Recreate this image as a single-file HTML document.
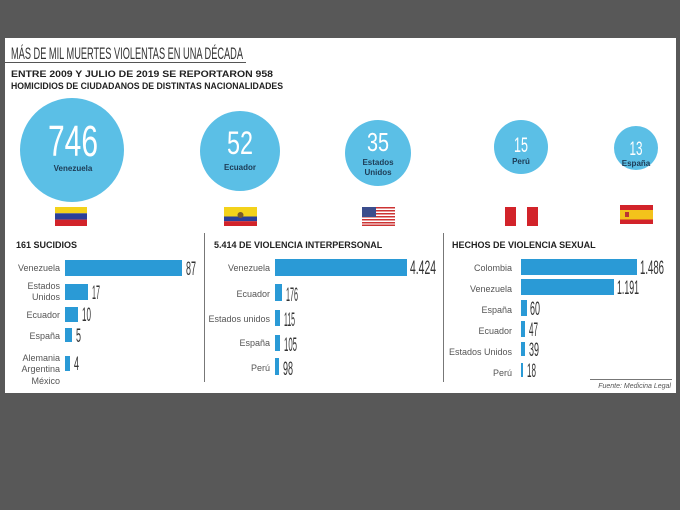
<!DOCTYPE html>
<html><head><meta charset="utf-8"><style>
html,body{margin:0;padding:0;background:#585858;}
svg{display:block;}
.t{font-family:"Liberation Sans",sans-serif;}
.h{font-family:"Liberation Sans",sans-serif;font-weight:bold;font-size:9px;fill:#222;}
.l{font-family:"Liberation Sans",sans-serif;font-size:9px;fill:#555;text-anchor:end;}
.v{font-family:"Liberation Sans",sans-serif;font-size:19px;fill:#333;}
.n{font-family:"Liberation Sans",sans-serif;fill:#fff;text-anchor:middle;}
.c{font-family:"Liberation Sans",sans-serif;font-weight:bold;fill:#1d3b55;text-anchor:middle;font-size:8px;}
</style></head><body>
<svg width="680" height="510" viewBox="0 0 680 510" xmlns="http://www.w3.org/2000/svg">
<rect x="0" y="0" width="680" height="510" fill="#585858"/>
<rect x="5" y="38" width="671" height="355" fill="#fff"/>
<text x="11" y="59" class="t" font-size="17" fill="#333" textLength="232" lengthAdjust="spacingAndGlyphs">MÁS DE MIL MUERTES VIOLENTAS EN UNA DÉCADA</text>
<line x1="5" y1="62.5" x2="246" y2="62.5" stroke="#555" stroke-width="1"/>
<text x="11" y="77" class="h" textLength="262" lengthAdjust="spacingAndGlyphs">ENTRE 2009 Y JULIO DE 2019 SE REPORTARON 958</text>
<text x="11" y="89" class="h" textLength="272" lengthAdjust="spacingAndGlyphs">HOMICIDIOS DE CIUDADANOS DE DISTINTAS NACIONALIDADES</text>

<g fill="#5bbfe6">
<circle cx="72" cy="150" r="52"/>
<circle cx="240" cy="151" r="40"/>
<circle cx="378" cy="153" r="33"/>
<circle cx="521" cy="147" r="27"/>
<circle cx="636" cy="148" r="22"/>
</g>
<text x="73" y="156" class="n" font-size="44" textLength="50" lengthAdjust="spacingAndGlyphs">746</text>
<text x="73" y="171" class="c" font-size="9">Venezuela</text>
<text x="240" y="154" class="n" font-size="32" textLength="26" lengthAdjust="spacingAndGlyphs">52</text>
<text x="240" y="170" class="c" font-size="9">Ecuador</text>
<text x="378" y="151" class="n" font-size="26" textLength="22" lengthAdjust="spacingAndGlyphs">35</text>
<text x="378" y="165" class="c">Estados</text>
<text x="378" y="175" class="c">Unidos</text>
<text x="521" y="152" class="n" font-size="21" textLength="14" lengthAdjust="spacingAndGlyphs">15</text>
<text x="521" y="164" class="c">Perú</text>
<text x="636" y="155" class="n" font-size="19" textLength="13" lengthAdjust="spacingAndGlyphs">13</text>
<text x="636" y="166" class="c">España</text>

<rect x="55" y="207" width="32" height="6.3" fill="#f3d21b"/><rect x="55" y="213.3" width="32" height="6.3" fill="#2a3f99"/><rect x="55" y="219.6" width="32" height="6.4" fill="#d2232a"/>
<rect x="224" y="207" width="33" height="9.5" fill="#f3d21b"/><rect x="224" y="216.5" width="33" height="4.7" fill="#2a3f99"/><rect x="224" y="221.2" width="33" height="4.8" fill="#d2232a"/><circle cx="240.5" cy="215" r="3" fill="#7a5a2a"/>
<g><rect x="362" y="207" width="33" height="19" fill="#fff"/>
<rect x="362" y="207" width="33" height="1.5" fill="#c33"/><rect x="362" y="210" width="33" height="1.5" fill="#c33"/><rect x="362" y="213" width="33" height="1.5" fill="#c33"/><rect x="362" y="216" width="33" height="1.5" fill="#c33"/><rect x="362" y="219" width="33" height="1.5" fill="#c33"/><rect x="362" y="222" width="33" height="1.5" fill="#c33"/><rect x="362" y="224.5" width="33" height="1.5" fill="#c33"/>
<rect x="362" y="207" width="14" height="10" fill="#3b4d8c"/></g>
<rect x="505" y="207" width="11" height="19" fill="#d2232a"/><rect x="527" y="207" width="11" height="19" fill="#d2232a"/>
<rect x="620" y="205" width="33" height="19" fill="#d2232a"/><rect x="620" y="210" width="33" height="9.5" fill="#f3c21b"/><rect x="625" y="212" width="4" height="5" fill="#b33"/>

<line x1="204.5" y1="233" x2="204.5" y2="382" stroke="#777"/>
<line x1="443.5" y1="233" x2="443.5" y2="382" stroke="#777"/>

<text x="16" y="248" class="h">161 SUCIDIOS</text>
<text x="214" y="248" class="h">5.414 DE VIOLENCIA INTERPERSONAL</text>
<text x="452" y="248" class="h">HECHOS DE VIOLENCIA SEXUAL</text>

<g fill="#2a9ad6">
<rect x="65" y="260" width="117" height="16"/>
<rect x="65" y="284" width="23" height="16"/>
<rect x="65" y="307" width="13" height="15"/>
<rect x="65" y="328" width="7" height="14"/>
<rect x="65" y="356" width="5" height="15"/>
<rect x="275" y="259" width="132" height="17"/>
<rect x="275" y="284" width="7" height="17"/>
<rect x="275" y="310" width="5" height="16"/>
<rect x="275" y="335" width="5" height="16"/>
<rect x="275" y="358" width="4" height="17"/>
<rect x="521" y="259" width="116" height="16"/>
<rect x="521" y="279" width="93" height="16"/>
<rect x="521" y="300" width="6" height="16"/>
<rect x="521" y="321" width="4" height="16"/>
<rect x="521" y="342" width="4" height="14"/>
<rect x="521" y="363" width="2" height="14"/>
</g>

<text x="60" y="271" class="l">Venezuela</text>
<text x="60" y="289" class="l">Estados</text><text x="60" y="300" class="l">Unidos</text>
<text x="60" y="318" class="l">Ecuador</text>
<text x="60" y="339" class="l">España</text>
<text x="60" y="361" class="l">Alemania</text><text x="60" y="372" class="l">Argentina</text><text x="60" y="384" class="l">México</text>
<text x="186" y="275" class="v" textLength="10" lengthAdjust="spacingAndGlyphs">87</text>
<text x="92" y="299" class="v" textLength="8" lengthAdjust="spacingAndGlyphs">17</text>
<text x="82" y="321" class="v" textLength="9" lengthAdjust="spacingAndGlyphs">10</text>
<text x="76" y="342" class="v" textLength="5" lengthAdjust="spacingAndGlyphs">5</text>
<text x="74" y="370" class="v" textLength="5" lengthAdjust="spacingAndGlyphs">4</text>

<text x="270" y="271" class="l">Venezuela</text>
<text x="270" y="297" class="l">Ecuador</text>
<text x="270" y="322" class="l">Estados unidos</text>
<text x="270" y="346" class="l">España</text>
<text x="270" y="371" class="l">Perú</text>
<text x="410" y="274" class="v" textLength="26" lengthAdjust="spacingAndGlyphs">4.424</text>
<text x="286" y="301" class="v" textLength="12" lengthAdjust="spacingAndGlyphs">176</text>
<text x="284" y="326" class="v" textLength="11" lengthAdjust="spacingAndGlyphs">115</text>
<text x="284" y="351" class="v" textLength="13" lengthAdjust="spacingAndGlyphs">105</text>
<text x="283" y="375" class="v" textLength="10" lengthAdjust="spacingAndGlyphs">98</text>

<text x="512" y="271" class="l">Colombia</text>
<text x="512" y="292" class="l">Venezuela</text>
<text x="512" y="313" class="l">España</text>
<text x="512" y="334" class="l">Ecuador</text>
<text x="512" y="355" class="l">Estados Unidos</text>
<text x="512" y="376" class="l">Perú</text>
<text x="640" y="274" class="v" textLength="24" lengthAdjust="spacingAndGlyphs">1.486</text>
<text x="617" y="294" class="v" textLength="22" lengthAdjust="spacingAndGlyphs">1.191</text>
<text x="530" y="315" class="v" textLength="10" lengthAdjust="spacingAndGlyphs">60</text>
<text x="529" y="336" class="v" textLength="9" lengthAdjust="spacingAndGlyphs">47</text>
<text x="529" y="356" class="v" textLength="10" lengthAdjust="spacingAndGlyphs">39</text>
<text x="527" y="377" class="v" textLength="9" lengthAdjust="spacingAndGlyphs">18</text>

<line x1="590" y1="379.5" x2="672" y2="379.5" stroke="#777"/>
<text x="671" y="388" class="t" font-size="7" font-style="italic" fill="#555" text-anchor="end">Fuente: Medicina Legal</text>
</svg>
</body></html>
